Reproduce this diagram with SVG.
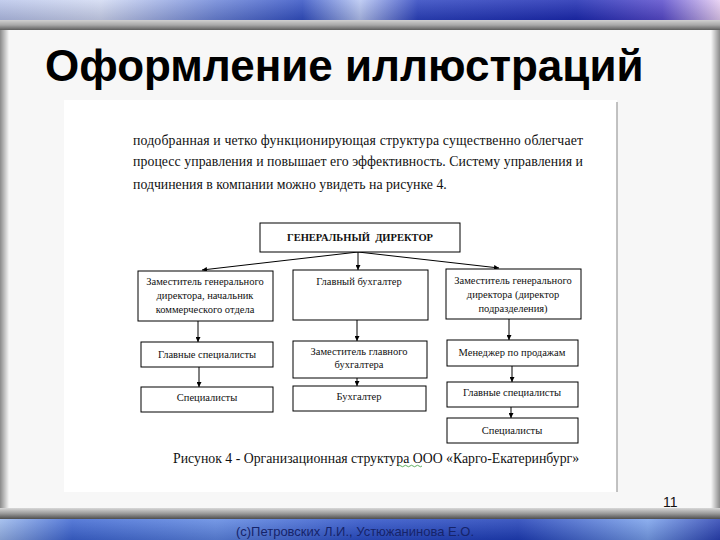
<svg xmlns="http://www.w3.org/2000/svg" width="720" height="540" viewBox="0 0 720 540">
<defs>
<linearGradient id="topBand" x1="0" y1="0" x2="1" y2="0">
<stop offset="0" stop-color="#b9c5ea"/><stop offset="0.14" stop-color="#d2daf2"/><stop offset="0.3" stop-color="#6d86d8"/><stop offset="0.42" stop-color="#3452c4"/><stop offset="0.5" stop-color="#b7c6f2"/><stop offset="0.58" stop-color="#2d44c0"/><stop offset="0.8" stop-color="#1d2bb2"/><stop offset="0.92" stop-color="#5a4ccc"/><stop offset="1" stop-color="#e6cdf2"/>
</linearGradient>
<linearGradient id="botBand" x1="0" y1="0" x2="1" y2="0">
<stop offset="0" stop-color="#9ab8ec"/><stop offset="0.1" stop-color="#3d66d2"/><stop offset="0.3" stop-color="#5f88e2"/><stop offset="0.5" stop-color="#2c51c8"/><stop offset="0.72" stop-color="#1f3fb8"/><stop offset="0.9" stop-color="#7aa2ec"/><stop offset="1" stop-color="#2a42b2"/>
</linearGradient>
<linearGradient id="bandShade" x1="0" y1="0" x2="0" y2="1">
<stop offset="0" stop-color="#ffffff" stop-opacity="0.15"/><stop offset="1" stop-color="#000020" stop-opacity="0.15"/>
</linearGradient>
<linearGradient id="grayTop" x1="0" y1="0" x2="0" y2="1">
<stop offset="0" stop-color="#d0d0d0"/><stop offset="0.5" stop-color="#a8a8a8"/><stop offset="1" stop-color="#5e5e5e"/>
</linearGradient>
<linearGradient id="grayBot" x1="0" y1="0" x2="0" y2="1">
<stop offset="0" stop-color="#d8d8d8"/><stop offset="0.5" stop-color="#9a9a9a"/><stop offset="1" stop-color="#4e4e4e"/>
</linearGradient>
<linearGradient id="edgeL" x1="0" y1="0" x2="1" y2="0">
<stop offset="0" stop-color="#8a8a8a"/><stop offset="1" stop-color="#f6f6f6"/>
</linearGradient>
<linearGradient id="edgeR" x1="1" y1="0" x2="0" y2="0">
<stop offset="0" stop-color="#8a8a8a"/><stop offset="1" stop-color="#f6f6f6"/>
</linearGradient>
<marker id="arr" viewBox="0 0 8 8" refX="8" refY="4" markerWidth="5" markerHeight="5" orient="auto" markerUnits="userSpaceOnUse">
<path d="M0,0 L8,4 L0,8 z" fill="#000"/>
</marker>
<style>
.box{fill:#fff;stroke:#000;stroke-width:1}
.t{font-family:"Liberation Serif","Times New Roman",serif;font-size:10.5px;fill:#111;text-anchor:middle}
.b{font-weight:bold}
.p{font-family:"Liberation Serif","Times New Roman",serif;font-size:13.8px;fill:#111}
.c{stroke:#000;stroke-width:1;fill:none;marker-end:url(#arr)}
</style>
</defs>

<!-- slide background -->
<rect x="0" y="0" width="720" height="540" fill="#f7f7f7"/>
<rect x="0" y="28" width="9" height="482" fill="url(#edgeL)"/>
<rect x="711" y="28" width="9" height="482" fill="url(#edgeR)"/>

<!-- top banner -->
<rect x="0" y="0" width="720" height="20" fill="url(#topBand)"/>
<rect x="0" y="0" width="720" height="20" fill="url(#bandShade)"/>
<rect x="0" y="20" width="720" height="10" fill="url(#grayTop)"/>

<!-- bottom banner -->
<rect x="0" y="508" width="720" height="11" fill="url(#grayBot)"/>
<rect x="0" y="519" width="720" height="21" fill="url(#botBand)"/>
<rect x="0" y="519" width="720" height="21" fill="url(#bandShade)"/>

<!-- title -->
<text x="45" y="81" font-family="'Liberation Sans',Arial,sans-serif" font-size="44" font-weight="bold" fill="#000">Оформление иллюстраций</text>

<!-- embedded page -->
<rect x="64" y="100" width="553" height="392" fill="#fff"/>
<line x1="617" y1="102" x2="617" y2="492" stroke="#9a9a9a" stroke-width="1.2"/>

<text class="p" x="133" y="145" textLength="450" lengthAdjust="spacing">подобранная и четко функционирующая структура существенно облегчает</text>
<text class="p" x="133" y="166" textLength="450" lengthAdjust="spacing">процесс управления и повышает его эффективность. Систему управления и</text>
<text class="p" x="133" y="189">подчинения в компании можно увидеть на рисунке 4.</text>

<!-- connectors -->
<g id="connectors">
<line class="c" x1="358" y1="252" x2="202" y2="270"/>
<line class="c" x1="358" y1="252" x2="358" y2="270"/>
<line class="c" x1="358" y1="252" x2="499" y2="268"/>
<line class="c" x1="198" y1="321" x2="198" y2="342"/>
<line class="c" x1="199" y1="367" x2="199" y2="387"/>
<line class="c" x1="357" y1="320" x2="357" y2="341"/>
<line class="c" x1="357" y1="378" x2="357" y2="386"/>
<line class="c" x1="509" y1="319" x2="509" y2="340"/>
<line class="c" x1="512" y1="366" x2="512" y2="382"/>
<line class="c" x1="511" y1="407" x2="511" y2="418"/>
</g>

<g id="gd">
<rect class="box" x="260" y="223" width="200" height="29"/>
<text class="t b" x="360" y="241" xml:space="preserve">ГЕНЕРАЛЬНЫЙ  ДИРЕКТОР</text>
</g>
<g id="dep1">
<rect class="box" x="138" y="271" width="135" height="50"/>
<text class="t" x="205" y="285">Заместитель генерального</text>
<text class="t" x="205" y="299">директора, начальник</text>
<text class="t" x="205" y="313">коммерческого отдела</text>
</g>
<g id="chief-acc">
<rect class="box" x="293" y="270" width="135" height="50"/>
<text class="t" x="359" y="285">Главный бухгалтер</text>
</g>
<g id="dep2">
<rect class="box" x="446" y="269" width="135" height="50"/>
<text class="t" x="513" y="284">Заместитель генерального</text>
<text class="t" x="513" y="298">директора (директор</text>
<text class="t" x="513" y="312">подразделения)</text>
</g>
<g id="l-spec-main">
<rect class="box" x="141" y="342" width="132" height="25"/>
<text class="t" x="207" y="358">Главные специалисты</text>
</g>
<g id="l-spec">
<rect class="box" x="141" y="387" width="132" height="25"/>
<text class="t" x="207" y="401">Специалисты</text>
</g>
<g id="dep-acc">
<rect class="box" x="293" y="341" width="134" height="37"/>
<text class="t" x="359" y="355">Заместитель главного</text>
<text class="t" x="359" y="368">бухгалтера</text>
</g>
<g id="acc">
<rect class="box" x="293" y="386" width="133" height="25"/>
<text class="t" x="359" y="400">Бухгалтер</text>
</g>
<g id="sales">
<rect class="box" x="447" y="340" width="131" height="26"/>
<text class="t" x="512" y="356">Менеджер по продажам</text>
</g>
<g id="r-spec-main">
<rect class="box" x="447" y="382" width="131" height="25"/>
<text class="t" x="512" y="396">Главные специалисты</text>
</g>
<g id="r-spec">
<rect class="box" x="447" y="418" width="131" height="25"/>
<text class="t" x="512" y="434">Специалисты</text>
</g>

<!-- caption -->
<text class="p" x="173" y="463" font-size="13.5">Рисунок 4 - Организационная структура ООО «Карго-Екатеринбург»</text>
<path d="M398,466 q1.5,-1.5 3,0 t3,0 t3,0 t3,0 t3,0 t3,0 t3,0 t3,0" fill="none" stroke="#3a9a3a" stroke-width="0.8"/>

<!-- page number and footer -->
<text x="663" y="507" font-family="'Liberation Sans',Arial,sans-serif" font-size="14" fill="#111">11</text>
<text x="355" y="536" text-anchor="middle" font-family="'Liberation Sans',Arial,sans-serif" font-size="13" fill="#16246a">(c)Петровских Л.И., Устюжанинова Е.О.</text>
</svg>
